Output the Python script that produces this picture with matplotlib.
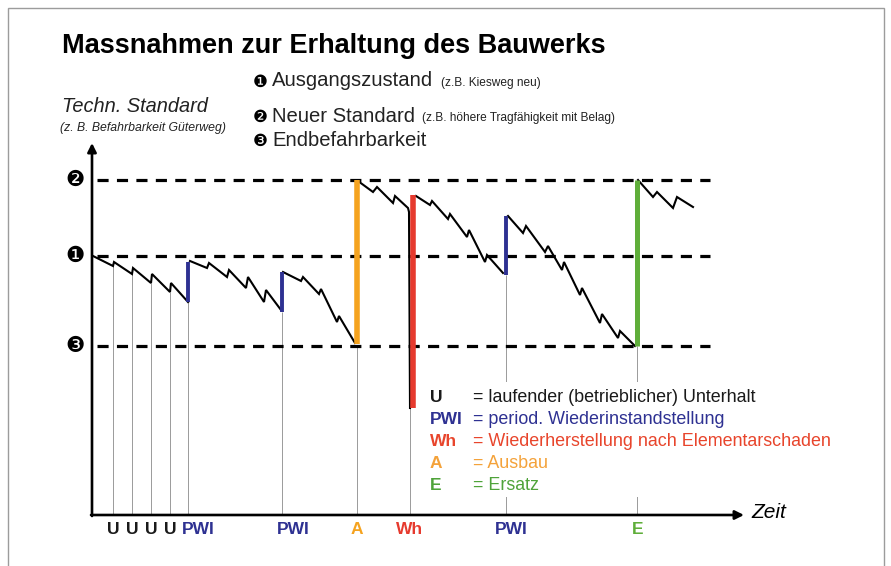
import matplotlib.pyplot as plt
from matplotlib.patches import Rectangle

plt.rcParams['font.family'] = ['Liberation Sans', 'DejaVu Sans']
plt.rcParams['lines.scale_dashes'] = False

W, H = 891, 566

NAVY = '#2e3192'
RED = '#e63a2e'
ORANGE = '#f5a31f'
GREEN = '#5fae3a'

# reference levels of the technical standard
level_marks = ['❷', '❶', '❸']
level_values = [335, 259, 169]

# condition curve, one section between two measures
sec1_t = [1, 21, 22, 40, 41, 59, 60, 78, 79, 96]
sec1_s = [259, 249, 253, 241, 247, 232, 241, 223, 232, 213]
sec2_t = [98, 115, 117, 135, 137, 154, 156, 172, 174, 189]
sec2_s = [254, 247, 252, 238, 245, 227, 238, 213, 225, 205]
sec3_t = [191, 209, 211, 227, 229, 245, 247, 263]
sec3_s = [243, 234, 238, 221, 226, 193, 199, 172]
sec4_t = [266, 281, 285, 301, 303, 316, 317, 318]
sec4_s = [334, 323, 328, 312, 319, 307, 303, 107]
sec5_t = [324, 338, 340, 356, 358, 375, 377, 393, 395, 411]
sec5_s = [319, 310, 314, 296, 301, 278, 285, 253, 260, 242]
sec6_t = [416, 431, 434, 453, 456, 470, 472, 488, 490, 508, 510, 526, 528, 543]
sec6_s = [299, 282, 289, 263, 269, 245, 253, 220, 227, 192, 201, 177, 184, 169]
sec7_t = [546, 561, 565, 581, 585, 601]
sec7_s = [335, 318, 323, 307, 318, 308]

# running maintenance (U)
u_t = [21, 40, 59, 78]
u_top = [249, 241, 232, 223]

# measures: bar from -> to
event_labels = ['PWI', 'PWI', 'A', 'Wh', 'PWI', 'E']
event_t = [96, 190, 265, 321, 414, 545]
event_from = [213, 203, 171, 107, 240, 169]
event_to = [253, 243, 335, 320, 299, 335]
event_colors = [NAVY, NAVY, ORANGE, RED, NAVY, GREEN]
event_widths = [2.8, 2.8, 4.0, 4.0, 2.8, 3.6]
marker_t = [96, 190, 265, 318, 414, 545]
marker_top = [213, 203, 169, 107, 240, 169]
label_t = [106, 201, 265, 318, 419, 546]

legend_keys = ['U', 'PWI', 'Wh', 'A', 'E']
legend_texts = ['= laufender (betrieblicher) Unterhalt',
                '= period. Wiederinstandstellung',
                '= Wiederherstellung nach Elementarschaden',
                '= Ausbau',
                '= Ersatz']
legend_colors = ['#1a1a1a', NAVY, '#e8452c', '#f4a23a', '#4fa33a']


def px(x, y):
    return x / W, 1 - y / H


fig = plt.figure(figsize=(W / 100, H / 100), dpi=100)
fig.patches.append(Rectangle(px(8, 575), 876 / W, 567 / H, transform=fig.transFigure,
                             fill=False, edgecolor='#9c9c9c', lw=1.0))

ax = fig.add_axes([92 / W, 51 / H, 650 / W, 370 / H])
ax.set_xlim(0, 650)
ax.set_ylim(0, 370)
ax.axis('off')

# level lines
ax.hlines(level_values, 5, 618, colors='black', lw=2.3, linestyles=(0, (8, 6)), zorder=2)
for mark, val in zip(level_marks, level_values):
    ax.text(-17, val, mark, ha='center', va='center', fontsize=15.5,
            family='DejaVu Sans', clip_on=False)

# marker lines down to the time axis
ax.vlines(u_t, 0, u_top, colors='#8a8a8a', lw=0.6, zorder=1)
ax.vlines(marker_t, 0, marker_top, colors='#8a8a8a', lw=0.6, zorder=1)

# condition curve
for t, s in [(sec1_t, sec1_s), (sec2_t, sec2_s), (sec3_t, sec3_s), (sec4_t, sec4_s),
             (sec5_t, sec5_s), (sec6_t, sec6_s), (sec7_t, sec7_s)]:
    ax.plot(t, s, color='black', lw=1.5, zorder=4, solid_joinstyle='miter')

# measures
for t, s0, s1, c, w in zip(event_t, event_from, event_to, event_colors, event_widths):
    ax.plot([t, t], [s0, s1], color=c, lw=w, zorder=5, solid_capstyle='butt')

# axes arrows
arrow = dict(arrowstyle='-|>', lw=1.9, color='black', mutation_scale=13, shrinkA=0, shrinkB=0)
ax.annotate('', xy=(0, 372), xytext=(0, -1), arrowprops=arrow, annotation_clip=False, zorder=6)
ax.annotate('', xy=(652, 0), xytext=(-1, 0), arrowprops=arrow, annotation_clip=False, zorder=6)

# labels below time axis
for t in u_t:
    ax.text(t, -15, 'U', ha='center', va='center', fontsize=12.5, weight='bold',
            color='#1a1a1a', clip_on=False)
for lab, t, c in zip(event_labels, label_t, event_colors):
    ax.text(t, -15, lab, ha='center', va='center', fontsize=12.5, weight='bold',
            color=c, clip_on=False)

fig.text(*px(751, 513), 'Zeit', style='italic', fontsize=15, va='center')

# legend box (hides marker lines)
ax.add_patch(Rectangle((333, 18), 420, 115, facecolor='white', edgecolor='none', zorder=3, clip_on=False))
ys = [397, 419, 441, 463, 485]
for k, txt, c, y in zip(legend_keys, legend_texts, legend_colors, ys):
    fig.text(*px(430, y), k, fontsize=12.5, weight='bold', color=c, va='center', zorder=7)
    fig.text(*px(473, y), txt, fontsize=12.9, color=c, va='center', zorder=7)

# title and header
fig.text(*px(62, 46), 'Massnahmen zur Erhaltung des Bauwerks', fontsize=19.5, weight='bold', va='center')
fig.text(*px(62, 106), 'Techn. Standard', fontsize=14.4, style='italic', va='center', color='#222222')
fig.text(*px(60, 128), '(z. B. Befahrbarkeit Güterweg)', fontsize=8.8, style='italic',
         va='center', color='#222222')

head_marks = ['❶', '❷', '❸']
head_main = ['Ausgangszustand', 'Neuer Standard', 'Endbefahrbarkeit']
head_note = ['(z.B. Kiesweg neu)', '(z.B. höhere Tragfähigkeit mit Belag)', '']
head_y = [81, 116, 140]
head_note_x = [441, 422, 0]
for m, main, note, y, nx in zip(head_marks, head_main, head_note, head_y, head_note_x):
    fig.text(*px(260, y + 1), m, fontsize=12, family='DejaVu Sans', ha='center', va='center')
    fig.text(*px(272, y), main, fontsize=14.6, va='center', color='#222222')
    if note:
        fig.text(*px(nx, y + 2), note, fontsize=8.6, va='center', color='#222222')

fig.savefig('out.png', dpi=100, facecolor='white')
